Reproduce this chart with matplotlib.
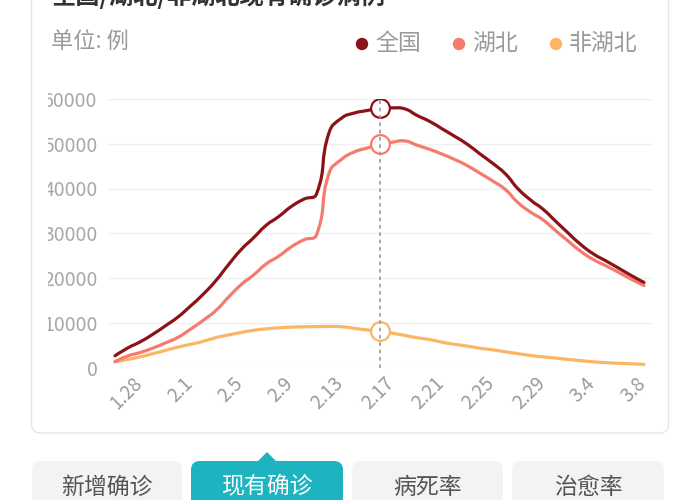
import numpy as np
import matplotlib
matplotlib.use('Agg')
import matplotlib.pyplot as plt
from matplotlib.patches import FancyBboxPatch, Polygon, PathPatch, Circle
from matplotlib.path import Path
from matplotlib.transforms import Bbox, TransformedBbox, ScaledTranslation

plt.rcParams['font.family'] = ['Noto Sans CJK SC', 'DejaVu Sans']

# ---------------- data ----------------
dates = ['1.27', '1.28', '1.29', '1.30', '1.31',
         '2.1', '2.2', '2.3', '2.4', '2.5', '2.6', '2.7', '2.8', '2.9', '2.10',
         '2.11', '2.12', '2.13', '2.14', '2.15', '2.16', '2.17', '2.18', '2.19',
         '2.20', '2.21', '2.22', '2.23', '2.24', '2.25', '2.26', '2.27', '2.28',
         '2.29', '3.1', '3.2', '3.3', '3.4', '3.5', '3.6', '3.7', '3.8', '3.9']
national = [2613, 4349, 5739, 7417, 9308, 11289, 13748, 16369, 19381, 22942,
            26302, 28985, 31774, 33738, 35982, 37626, 38800, 52526, 55748, 56873,
            57416, 57934, 58016, 57805, 56303, 54965, 53284, 51606, 49824, 47672,
            45604, 43258, 39919, 37414, 35329, 32652, 30004, 27433, 25352, 23784,
            22177, 20533, 19016]
hubei = [1303, 2567, 3349, 4334, 5486, 6738, 8565, 10532, 12712, 15679,
         18483, 20677, 23139, 24881, 26965, 28532, 29659, 43455, 46537, 48175,
         49030, 49847, 50338, 50633, 49665, 48730, 47647, 46439, 45054, 43369,
         41660, 39755, 36829, 34715, 32959, 30543, 28216, 25905, 24085, 22695,
         21239, 19710, 18303]
non_hubei = [1310, 1782, 2390, 3083, 3822, 4551, 5183, 5837, 6669, 7263,
             7819, 8308, 8635, 8857, 9017, 9094, 9141, 9160, 9120, 8750,
             8386, 8087, 7678, 7172, 6638, 6235, 5637, 5167, 4770, 4303,
             3944, 3503, 3090, 2699, 2370, 2109, 1788, 1528, 1267, 1089,
             938, 823, 713]
series_names = ['全国', '湖北', '非湖北']
series_colors = ['#8c1219', '#f47b6e', '#fbb563']
y_ticks = [0, 10000, 20000, 30000, 40000, 50000, 60000]
highlight = '2.17'
tabs = ['新增确诊', '现有确诊', '病死率', '治愈率']
title = '全国/湖北/非湖北现有确诊病例'
unit = '单位: 例'

W, H = 700, 500
fig = plt.figure(figsize=(W / 100, H / 100), dpi=100)
fig.patch.set_facecolor('white')

# background overlay axes in pixel coordinates
bg = fig.add_axes([0, 0, 1, 1], zorder=0)
bg.set_xlim(0, W)
bg.set_ylim(H, 0)
bg.axis('off')

card = FancyBboxPatch((31.5, -20), 637, 453, boxstyle='round,pad=0,rounding_size=9',
                      fc='white', ec='#e6e6e6', lw=1.0)
bg.add_patch(card)

bg.text(52, -4, title, fontsize=17.5, fontweight='bold', color='#333333',
        va='center', ha='left')
bg.text(51, 42, unit, fontsize=16, color='#9a9a9a', va='center', ha='left')

leg_x = [362, 459, 556]
for name, col, lx in zip(series_names, series_colors, leg_x):
    bg.add_patch(Circle((lx, 44), 5.5, color=col))
    bg.text(lx + 13, 43, name, fontsize=16.5, color='#9a9a9a', va='center', ha='left')

# tabs
tab_x = [(32, 182), (191, 343), (352, 503), (512, 664)]
active = 1
teal = '#1db3c0'
for k, (lab, (x0, x1)) in enumerate(zip(tabs, tab_x)):
    fc = teal if k == active else '#f3f3f3'
    bg.add_patch(FancyBboxPatch((x0, 461), x1 - x0, 70,
                                boxstyle='round,pad=0,rounding_size=9', fc=fc, ec='none'))
    bg.text((x0 + x1) / 2, 487, lab, fontsize=16.5,
            color='white' if k == active else '#555555', ha='center', va='center')
cx = (tab_x[active][0] + tab_x[active][1]) / 2
bg.add_patch(Polygon([(cx - 10, 462), (cx, 452), (cx + 10, 462)], closed=True,
                     fc=teal, ec='none'))

# ---------------- main chart ----------------
x_left_px, x_right_px = 108, 653
y_top_px, y_bot_px = 99, 367.5
ax = fig.add_axes([x_left_px / W, 1 - y_bot_px / H,
                   (x_right_px - x_left_px) / W, (y_bot_px - y_top_px) / H], zorder=2)
ax.patch.set_alpha(0)
n = len(dates)
step = (644 - 115) / (n - 1)
ax.set_xlim(-(115 - x_left_px) / step, (n - 1) + (x_right_px - 644) / step)
ax.set_ylim(0, 60000)
for s in ax.spines.values():
    s.set_visible(False)
ax.set_yticks(y_ticks)
ax.set_yticklabels([str(v) for v in y_ticks])
ax.yaxis.grid(True, color='#f0f0f0', lw=1.0)
ax.set_axisbelow(True)
ax.tick_params(axis='y', length=0, pad=7.5, labelsize=14, labelcolor='#a8a8a8')

xt = list(range(1, n, 4))
ax.set_xticks(xt)
ax.set_xticklabels([dates[i] for i in xt])
ax.tick_params(axis='x', length=0, pad=4.0, labelsize=13.5, labelcolor='#9a9a9a')
off = ScaledTranslation(4 / 100, 0, fig.dpi_scale_trans)
for lab in ax.get_xticklabels():
    lab.set_rotation(45)
    lab.set_ha('right')
    lab.set_va('top')
    lab.set_rotation_mode('anchor')
    lab.set_transform(lab.get_transform() + off)

clip = TransformedBbox(Bbox([[48 / W, 0], [1, 1]]), fig.transFigure)
for lab in ax.get_yticklabels():
    lab.set_clip_box(clip)
    lab.set_clip_on(True)


def smooth_path(xs, ys, smooth=0.5):
    pts = ax.transData.transform(np.column_stack([xs, ys]))
    verts = [pts[0]]
    codes = [Path.MOVETO]
    cp0 = pts[0].copy()
    m = len(pts)
    for k in range(1, m):
        p = pts[k]
        if k == m - 1:
            cp1 = p.copy()
        else:
            prv, nxt = pts[k - 1], pts[k + 1]
            v = nxt - prv
            lp = np.hypot(*(p - prv))
            ln = np.hypot(*(p - nxt))
            r = ln / (ln + lp)
            cp1 = p - v * smooth * (1 - r)
        verts += [cp0, cp1, p]
        codes += [Path.CURVE4] * 3
        if k < m - 1:
            cp0 = p + v * smooth * r
    verts = ax.transData.inverted().transform(np.array(verts))
    return Path(verts, codes)


xs = np.arange(n)
hi = dates.index(highlight)
all_series = [national, hubei, non_hubei]
zorders = [5, 4, 3]
for vals, col, zo in zip(all_series, series_colors, zorders):
    ax.add_patch(PathPatch(smooth_path(xs, vals), fc='none', ec=col, lw=2.3,
                           capstyle='round', joinstyle='round', zorder=zo))

ax.vlines(hi, 0, 60000, colors='#9a9a9a', linestyles=(0, (2.2, 2.2)), lw=1.2, zorder=7)
for vals, col in zip(all_series, series_colors):
    ax.plot([hi], [vals[hi]], 'o', ms=13.5, mfc='white', mec=col, mew=1.6,
            alpha=1, zorder=6)

fig.savefig('out.png', dpi=100, facecolor='white')
